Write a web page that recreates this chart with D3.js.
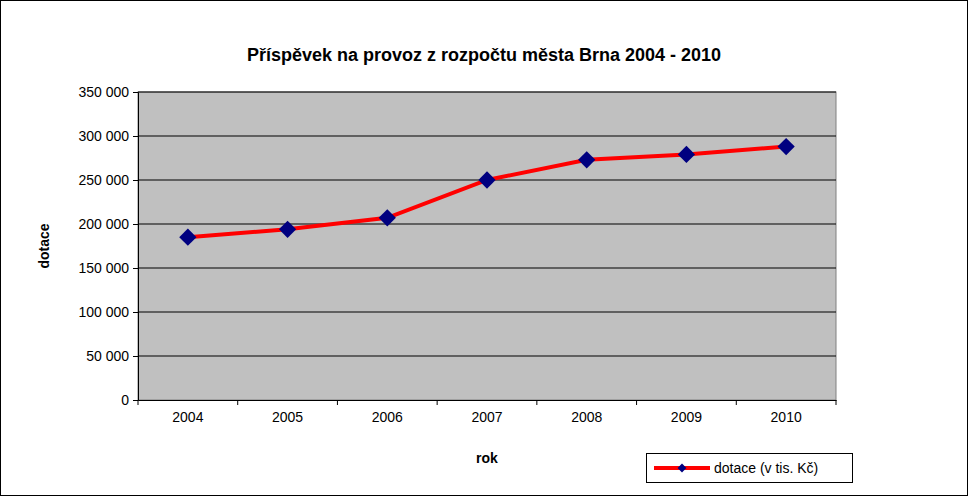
<!DOCTYPE html>
<html><head><meta charset="utf-8">
<script src="https://cdn.jsdelivr.net/npm/d3@7"></script>
<style>body{margin:0;background:#fff}svg{display:block;font-family:"Liberation Sans",Arial,sans-serif}</style>
</head><body><svg id="c" width="968" height="496"></svg>
<script>
const years = ["2004", "2005", "2006", "2007", "2008", "2009", "2010"];
const dotace = [185000, 194000, 207000, 250000, 273000, 279000, 288000];
const yTicks = [0, 50000, 100000, 150000, 200000, 250000, 300000, 350000];

const svg = d3.select("#c");
const m = {l: 138, r: 836, t: 92, b: 400};

svg.append("rect").attr("x", 0.5).attr("y", 0.5).attr("width", 967).attr("height", 495)
  .attr("fill", "#fff").attr("stroke", "#000");

const x = d3.scaleBand().domain(years).range([m.l, m.r]);
const y = d3.scaleLinear().domain([0, 350000]).range([m.b, m.t]);
const fmt = v => d3.format(",")(v).replace(/,/g, " ");

svg.append("rect").attr("x", m.l).attr("y", m.t).attr("width", m.r - m.l).attr("height", m.b - m.t)
  .attr("fill", "#c0c0c0").attr("stroke", "#808080");

svg.append("g").selectAll("line").data(yTicks.slice(1)).join("line")
  .attr("x1", m.l).attr("x2", m.r).attr("y1", d => y(d)).attr("y2", d => y(d))
  .attr("stroke", "#000");

const ya = svg.append("g").attr("transform", `translate(${m.l},0)`)
  .call(d3.axisLeft(y).tickValues(yTicks).tickFormat(fmt).tickSize(5).tickPadding(4));
ya.selectAll("text").attr("font-size", 14).attr("fill", "#000");
ya.selectAll("line,path").attr("stroke", "#000");

const xa = svg.append("g").attr("transform", `translate(0,${m.b})`)
  .call(d3.axisBottom(x).tickSize(0).tickPadding(12));
xa.selectAll("text").attr("font-size", 14).attr("fill", "#000");
xa.select("path").attr("stroke", "#000");
xa.selectAll(".sep").data(years.concat(["end"])).join("line").attr("class", "sep")
  .attr("x1", (d, i) => m.l + i * x.step()).attr("x2", (d, i) => m.l + i * x.step())
  .attr("y1", 0).attr("y2", 5).attr("stroke", "#000");

const cx = d => x(d) + x.bandwidth() / 2;
svg.append("path").datum(dotace.map((v, i) => [cx(years[i]), y(v)]))
  .attr("d", d3.line()).attr("fill", "none").attr("stroke", "#ff0000").attr("stroke-width", 4);

const diamond = d3.symbol().type(d3.symbolDiamond2).size(190);
svg.append("g").selectAll("path").data(dotace).join("path")
  .attr("d", diamond).attr("transform", (d, i) => `translate(${cx(years[i])},${y(d)})`)
  .attr("fill", "#000080");

svg.append("text").attr("x", 484).attr("y", 61).attr("text-anchor", "middle")
  .attr("font-size", 18).attr("font-weight", "bold").text("Příspěvek na provoz z rozpočtu města Brna 2004 - 2010");
svg.append("text").attr("x", 487).attr("y", 463).attr("text-anchor", "middle")
  .attr("font-size", 14).attr("font-weight", "bold").text("rok");
svg.append("text").attr("transform", "translate(49,246) rotate(-90)").attr("text-anchor", "middle")
  .attr("font-size", 14).attr("font-weight", "bold").text("dotace");

const lg = svg.append("g").attr("transform", "translate(646,453)");
lg.append("rect").attr("x", 0.5).attr("y", 0.5).attr("width", 206).attr("height", 29)
  .attr("fill", "#fff").attr("stroke", "#000");
lg.append("line").attr("x1", 8).attr("x2", 64).attr("y1", 15).attr("y2", 15)
  .attr("stroke", "#ff0000").attr("stroke-width", 4);
lg.append("path").attr("d", d3.symbol().type(d3.symbolDiamond2).size(50))
  .attr("transform", "translate(36,15)").attr("fill", "#000080");
lg.append("text").attr("x", 68).attr("y", 20).attr("font-size", 14).text("dotace (v tis. Kč)");
</script></body></html>
